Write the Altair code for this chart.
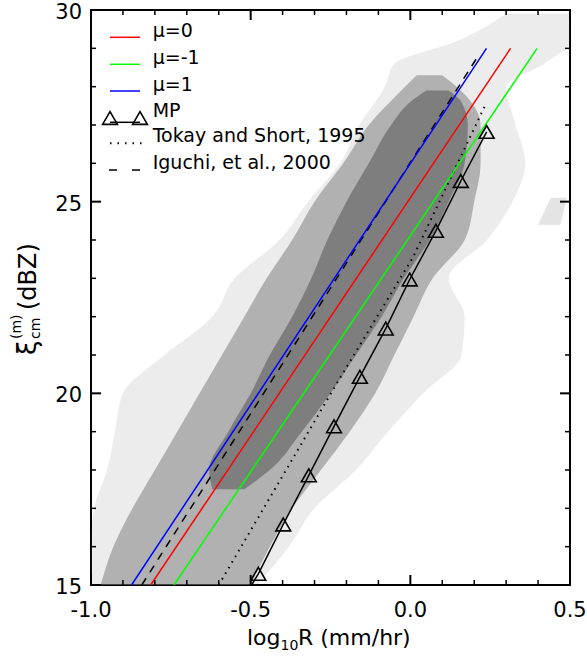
import altair as alt
import pandas as pd

# ---------------- data ----------------
x_major = [-1.0, -0.5, 0.0, 0.5]
x_major_labels = ["-1.0", "-0.5", "0.0", "0.5"]
x_minor = [-0.9, -0.8, -0.7, -0.6, -0.4, -0.3, -0.2, -0.1, 0.1, 0.2, 0.3, 0.4]
y_major = [15, 20, 25, 30]
y_major_labels = ["15", "20", "25", "30"]
y_minor = [16, 17, 18, 19, 21, 22, 23, 24, 26, 27, 28, 29]

legend_labels = ["μ=0", "μ=-1", "μ=1", "MP", "Tokay and Short, 1995", "Iguchi, et al., 2000"]

# fitted relations
mu0_x = [-0.813, 0.314]
mu0_y = [15.0, 29.0]
mum1_x = [-0.740, 0.397]
mum1_y = [15.0, 29.0]
mu1_x = [-0.873, 0.2385]
mu1_y = [15.0, 29.0]
iguchi_x = [-0.841, 0.2175]
iguchi_y = [15.0, 28.87]
tokay_x = [-0.600, -0.524, -0.231, 0.009, 0.233]
tokay_y = [15.0, 16.08, 20.25, 23.56, 27.49]
mp_x = [-0.476, -0.398, -0.318, -0.239, -0.158, -0.077, -0.002, 0.080, 0.158, 0.239]
mp_y = [15.29, 16.58, 17.86, 19.14, 20.43, 21.69, 22.97, 24.24, 25.54, 26.82]
mp_line_start_x = -0.497
mp_line_start_y = 15.0

# scatter cloud envelopes (y level in dBZ, left / right edge in log10R)
outer_y = [15.0, 16.0, 17.0, 18.0, 19.0, 20.0, 21.0, 22.0, 23.0, 24.0, 25.0, 26.0, 27.0, 28.0, 28.6, 29.2, 29.9]
outer_left = [-1.0, -1.0, -0.99, -0.95, -0.925, -0.90, -0.77, -0.62, -0.55, -0.41, -0.32, -0.22, -0.16, -0.08, -0.05, 0.15, 0.30]
outer_right = [-0.48, -0.38, -0.30, -0.17, -0.07, 0.04, 0.16, 0.17, 0.12, 0.24, 0.32, 0.36, 0.33, 0.30, 0.42, 0.50, 0.50]

med_y = [15.0, 16.0, 17.0, 18.0, 19.0, 20.0, 21.0, 22.0, 23.0, 24.0, 25.0, 26.0, 27.0, 27.8, 28.3]
med_left = [-0.97, -0.93, -0.87, -0.80, -0.73, -0.66, -0.59, -0.52, -0.45, -0.37, -0.30, -0.21, -0.13, -0.04, 0.02]
med_right = [-0.50, -0.44, -0.37, -0.28, -0.19, -0.11, -0.05, 0.01, 0.07, 0.17, 0.20, 0.22, 0.22, 0.17, 0.10]

core_y = [17.5, 18.0, 19.0, 20.0, 21.0, 22.0, 23.0, 24.0, 25.0, 26.0, 27.0, 27.6, 27.9]
core_left = [-0.62, -0.63, -0.57, -0.50, -0.44, -0.37, -0.31, -0.26, -0.20, -0.13, -0.06, 0.00, 0.05]
core_right = [-0.52, -0.44, -0.34, -0.25, -0.17, -0.09, -0.02, 0.06, 0.12, 0.17, 0.18, 0.16, 0.12]

blob_y = [24.4, 25.1]
blob_left = [0.40, 0.44]
blob_right = [0.47, 0.49]

# ---------------- chart ----------------
W, H = 479, 575
FONT = "DejaVu Sans"
xs = alt.Scale(domain=[-1.0, 0.5], nice=False, zero=False)
ys = alt.Scale(domain=[15, 30], nice=False, zero=False)


def X(f):
    return alt.X(f, type="quantitative", scale=xs, axis=None)


def Y(f):
    return alt.Y(f, type="quantitative", scale=ys, axis=None)


def cloud(yv, xl, xr, opacity):
    df = pd.DataFrame({"y": yv, "xl": xl, "xr": xr})
    return alt.Chart(df).mark_area(orient="horizontal", color="#767676", opacity=opacity,
                                   clip=True, interpolate="monotone").encode(
        y=Y("y"), x=X("xl"), x2=alt.X2("xr"))


def line(xv, yv, color, dash=None, width=1.5):
    df = pd.DataFrame({"x": xv, "y": yv, "o": list(range(len(xv)))})
    kw = dict(color=color, strokeWidth=width, clip=True)
    if dash is not None:
        kw["strokeDash"] = dash
    return alt.Chart(df).mark_line(**kw).encode(x=X("x"), y=Y("y"), order="o:Q")


one = pd.DataFrame({"a": [0]})

layers = [
    cloud(outer_y, outer_left, outer_right, 0.14),
    cloud(blob_y, blob_left, blob_right, 0.2),
    cloud(med_y, med_left, med_right, 0.5),
    cloud(core_y, core_left, core_right, 0.88),
    line(tokay_x, tokay_y, "black", dash=[1.5, 5], width=2),
    line(iguchi_x, iguchi_y, "black", dash=[8, 7], width=1.5),
    line(mu1_x, mu1_y, "#0000ff"),
    line(mu0_x, mu0_y, "#ff0000"),
    line(mum1_x, mum1_y, "#00ff00"),
    line([mp_line_start_x] + mp_x, [mp_line_start_y] + mp_y, "black"),
    alt.Chart(pd.DataFrame({"x": mp_x, "y": mp_y})).mark_point(
        shape="triangle-up", size=220, filled=False, color="black", strokeWidth=1.6, opacity=1
    ).encode(x=X("x"), y=Y("y")),
]

# inward ticks on all four sides
for vals, ln, sw in [(x_major, 10, 2), (x_minor, 5, 1.5)]:
    d = pd.DataFrame({"v": vals})
    layers.append(alt.Chart(d).mark_rule(color="black", strokeWidth=sw).encode(
        x=X("v"), y=alt.value(H), y2=alt.value(H - ln)))
    layers.append(alt.Chart(d).mark_rule(color="black", strokeWidth=sw).encode(
        x=X("v"), y=alt.value(0), y2=alt.value(ln)))
for vals, ln, sw in [(y_major, 10, 2), (y_minor, 5, 1.5)]:
    d = pd.DataFrame({"v": vals})
    layers.append(alt.Chart(d).mark_rule(color="black", strokeWidth=sw).encode(
        y=Y("v"), x=alt.value(0), x2=alt.value(ln)))
    layers.append(alt.Chart(d).mark_rule(color="black", strokeWidth=sw).encode(
        y=Y("v"), x=alt.value(W), x2=alt.value(W - ln)))

# tick labels
layers.append(alt.Chart(pd.DataFrame({"v": x_major, "t": x_major_labels})).mark_text(
    font=FONT, fontSize=21, align="center", baseline="alphabetic", color="black"
).encode(x=X("v"), y=alt.value(H + 32), text="t:N"))
layers.append(alt.Chart(pd.DataFrame({"v": y_major, "t": y_major_labels})).mark_text(
    font=FONT, fontSize=21, align="right", baseline="middle", color="black", dy=3
).encode(y=Y("v"), x=alt.value(-9), text="t:N"))


def txt(s, x, y, size, angle=0, align="left", baseline="alphabetic"):
    kw = dict(font=FONT, fontSize=size, align=align, baseline=baseline, color="black")
    if angle:
        kw["angle"] = angle
    return alt.Chart(one).mark_text(**kw).encode(
        x=alt.value(x), y=alt.value(y), text=alt.value(s))


# x-axis title: log10R (mm/hr)
layers += [
    txt("log", 156, 635, 22),
    txt("10", 189.5, 640, 14),
    txt("R (mm/hr)", 207, 635, 22),
]
# y-axis title: xi_cm^(m) (dBZ)
layers += [
    txt("ξ", -55, 345, 26, angle=270),
    txt("(m)", -70, 329, 14, angle=270),
    txt("cm", -51, 329, 14, angle=270),
    txt("(dBZ)", -55, 300, 24, angle=270),
]

# legend
LX0, LX1, TX = 19, 49, 61.7
rows = [27.3, 54.3, 81.0, 106.7, 132.3, 159.3]
for color, yy in [("#ff0000", rows[0]), ("#00ff00", rows[1]), ("#0000ff", rows[2])]:
    layers.append(alt.Chart(one).mark_rule(color=color, strokeWidth=1.5).encode(
        x=alt.value(LX0), x2=alt.value(LX1), y=alt.value(yy)))
layers.append(alt.Chart(one).mark_rule(color="black", strokeWidth=1.5).encode(
    x=alt.value(LX0), x2=alt.value(LX1), y=alt.value(112.3)))
for px in (LX0, LX1):
    layers.append(alt.Chart(one).mark_point(
        shape="triangle-up", size=220, filled=False, color="black", strokeWidth=1.6, opacity=1
    ).encode(x=alt.value(px), y=alt.value(108.0)))
layers.append(alt.Chart(one).mark_rule(color="black", strokeWidth=2, strokeDash=[1.5, 6]).encode(
    x=alt.value(LX0), x2=alt.value(LX1 + 2), y=alt.value(133.3)))
layers.append(alt.Chart(one).mark_rule(color="black", strokeWidth=1.5, strokeDash=[8, 15]).encode(
    x=alt.value(LX0 - 1), x2=alt.value(LX1), y=alt.value(160.0)))
for lab, yy in zip(legend_labels, rows):
    layers.append(txt(lab, TX, yy, 19))

chart = alt.layer(*layers).properties(
    width=W, height=H,
    padding={"left": 91, "top": 10, "right": 17, "bottom": 71},
    autosize=alt.AutoSizeParams(type="none"),
    background="white",
).configure_view(stroke="black", strokeWidth=2)

chart.save("out.html", embed_options={"renderer": "svg", "actions": False})
